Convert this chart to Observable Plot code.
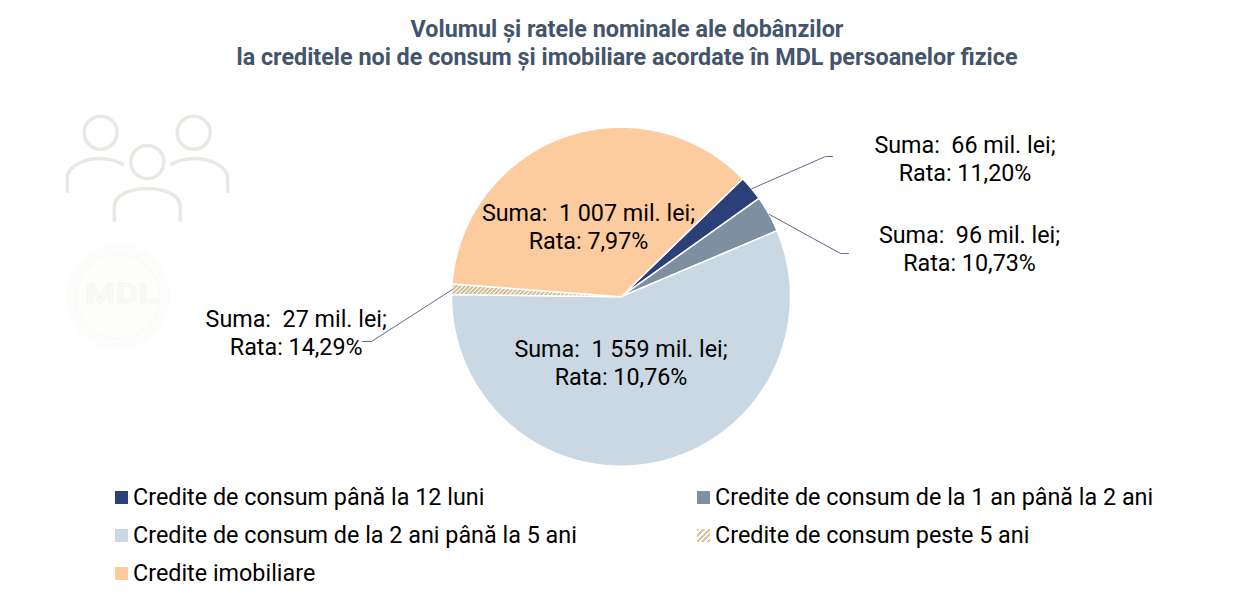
<!DOCTYPE html>
<html lang="ro"><head><meta charset="utf-8">
<script src="https://cdn.jsdelivr.net/npm/d3@7"></script>
<script src="https://cdn.jsdelivr.net/npm/@observablehq/plot@0.6"></script>
<style>
html,body{margin:0;padding:0;background:#fff}
body{position:relative;width:1254px;height:600px;overflow:hidden;font-family:Roboto,sans-serif}
#title{position:absolute;left:0;top:15px;width:1254px;text-align:center;font-weight:700;font-size:23.33px;line-height:28px;color:#44546a}
#chart{position:absolute;left:0;top:75px}
#chart svg{background:transparent;display:block}
#chart svg text{white-space:pre}
#icons{position:absolute;left:0;top:0}
.leg{position:absolute;font-size:23.35px;line-height:24px;color:#000;white-space:nowrap}
.sw{position:absolute;width:13px;height:13px}
</style></head><body>
<svg id="icons" width="260" height="370" viewBox="0 0 260 370">
  <g fill="none" stroke="#e9e9e4" stroke-width="3.6">
    <circle cx="100.7" cy="132.7" r="16.5"/><circle cx="193.7" cy="132.7" r="16.5"/><circle cx="147.3" cy="162" r="16.5"/>
    <path d="M67.3 192.7V178C67.3 166 85 158.5 100 158.5C109 158.5 117 161 124 165"/>
    <path d="M227.7 192.7V178C227.7 166 209 158.5 194 158.5C185 158.5 177 161 170.7 165"/>
    <path d="M114.3 221.7V206.7C114.3 195 131 188.5 147.3 188.5C164 188.5 180.3 195 180.3 206.7V221.7"/>
  </g>
  <circle cx="117.7" cy="296.7" r="52" fill="#fcfcfb"/>
  <circle cx="117.7" cy="296.7" r="42" fill="#fdfdfc" stroke="#f9f9f7" stroke-width="1.5"/>
  <text x="85" y="303" textLength="72" lengthAdjust="spacingAndGlyphs" font-family="Roboto" font-weight="700" font-size="28" fill="#f9f9f7" stroke="#f4f4f1" stroke-width=".5">MDL</text>
</svg>
<div id="title">Volumul și ratele nominale ale dobânzilor<br>la creditele noi de consum și imobiliare acordate în MDL persoanelor fizice</div>
<div id="chart"></div>
<script>
// Data
const categories = ["Credite de consum până la 12 luni","Credite de consum de la 1 an până la 2 ani","Credite de consum de la 2 ani până la 5 ani","Credite de consum peste 5 ani","Credite imobiliare"];
const amounts = [66, 96, 1559, 27, 1007];
const amountLabels = ["66","96","1 559","27","1 007"];
const rates = ["11,20","10,73","10,76","14,29","7,97"];
const colors = ["#2b4078","#7f8fa3","#c9d8e3","url(#hatch)","#fdcc9e"];

// Layout (page pixels)
const W = 1254, H = 400, top0 = 75, cx = 621, cy = 296.7, R = 169.5, startDeg = 45.9;
const labelAt = [[964.5,158],[969,247.5],[620.5,361.5],[295.7,331.5],[588,225.5]];
const leaders = [[[825,156],[832,156]],[[840,253],[848,253]],null,[[371,341],[362,341]],null];
const ux = px => (px - cx) / R, uy = py => (cy - py) / R;

const pie = d3.pie().sort(null).startAngle(startDeg*Math.PI/180).endAngle((startDeg+360)*Math.PI/180)(amounts);
const wedge = pie.flatMap((s,i) => {
  const n = Math.max(2, Math.ceil((s.endAngle-s.startAngle)/0.01));
  return d3.range(n+1).map(k => {
    const a = s.startAngle + (s.endAngle-s.startAngle)*k/n;
    return {name: categories[i], x: Math.sin(a), y: Math.cos(a)};
  });
});
const labels = categories.map((name,i) => ({
  x: ux(labelAt[i][0]), y: uy(labelAt[i][1]),
  text: `Suma:  ${amountLabels[i]} mil. lei;\nRata: ${rates[i]}%`
}));
const leaderPts = pie.flatMap((s,i) => {
  if (!leaders[i]) return [];
  const a = (s.startAngle+s.endAngle)/2;
  return [{i,x:Math.sin(a),y:Math.cos(a)}, ...leaders[i].map(p => ({i,x:ux(p[0]),y:uy(p[1])}))];
});

const defs = () => {
  const d = d3.create("svg:defs");
  const p = d.append("pattern").attr("id","hatch").attr("patternUnits","userSpaceOnUse")
    .attr("width",3).attr("height",3).attr("patternTransform","rotate(45)");
  p.append("rect").attr("width",3).attr("height",3).attr("fill","#fff");
  p.append("rect").attr("width",1.8).attr("height",3).attr("fill","#c9b68a");
  return d.node();
};

const plot = Plot.plot({
  width: W, height: H, margin: 0,
  x: {domain:[ux(0),ux(W)], axis:null},
  y: {domain:[uy(top0+H),uy(top0)], axis:null},
  color: {domain:categories, range:colors},
  style: {background:"transparent", fontFamily:"Roboto, sans-serif"},
  marks: [
    defs,
    Plot.area(wedge,{x1:()=>0,y1:()=>0,x2:"x",y2:"y",z:"name",fill:"name",stroke:"#fff",strokeWidth:1.5,curve:"linear"}),
    Plot.line(leaderPts,{x:"x",y:"y",z:"i",stroke:"#5d6d82",strokeWidth:1,curve:"linear"}),
    Plot.text(labels,{x:"x",y:"y",text:"text",fontSize:23.3,lineHeight:1.2,fill:"#000",textAnchor:"middle"})
  ]
});
document.getElementById("chart").append(plot);

// Legend
const rowsY = [497,535,573], colsX = [115,697];
const place = [[0,0],[1,0],[0,1],[1,1],[0,2]];
categories.forEach((name,i) => {
  const [c,r] = place[i];
  const sw = document.createElement("div"); sw.className="sw";
  sw.style.left = colsX[c]+"px"; sw.style.top = (rowsY[r]-6)+"px";
  sw.style.background = i===3
    ? "repeating-linear-gradient(135deg,#d6c6a0 0 2px,#fff 2px 4px)"
    : colors[i];
  document.body.append(sw);
  const t = document.createElement("div"); t.className="leg"; t.textContent=name;
  t.style.left = (colsX[c]+18)+"px"; t.style.top = (rowsY[r]-12)+"px";
  document.body.append(t);
});
</script></body></html>
